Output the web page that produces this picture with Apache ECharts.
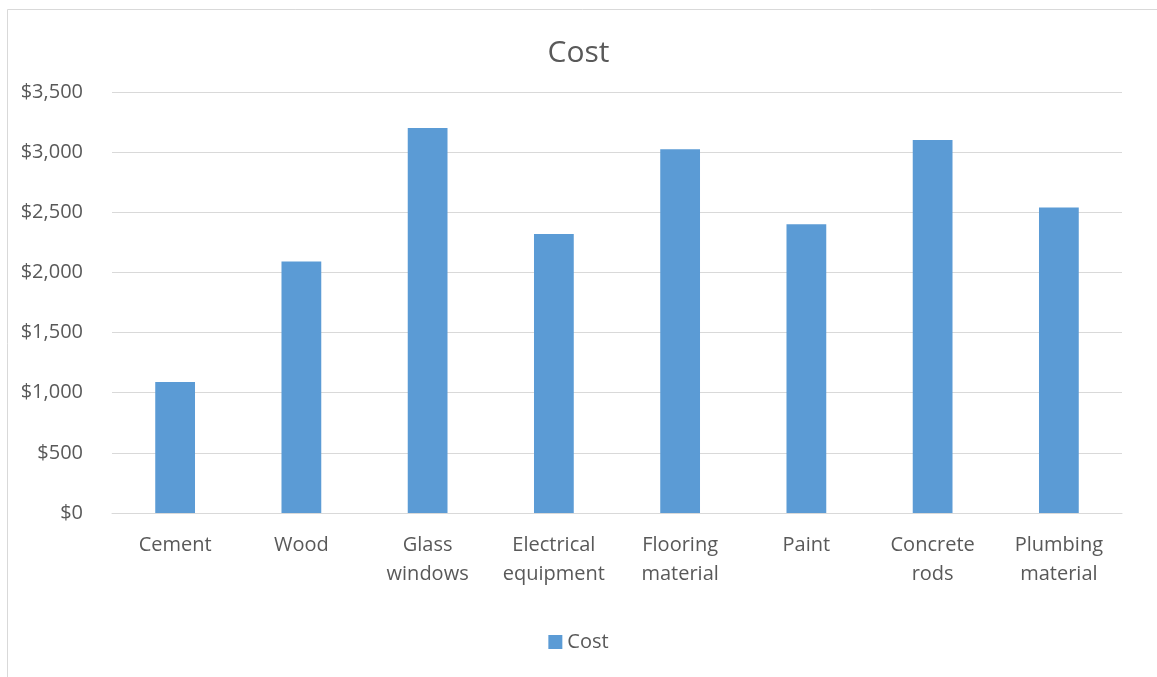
<!DOCTYPE html>
<html>
<head>
<meta charset="utf-8">
<script src="https://cdn.jsdelivr.net/npm/echarts@6/dist/echarts.min.js"></script>
<style>
html,body{margin:0;padding:0;background:#fff;}
#chart{width:1157px;height:677px;}
</style>
</head>
<body>
<div id="chart"></div>
<script>
const categories = ["Cement", "Wood", "Glass windows", "Electrical equipment", "Flooring material", "Paint", "Concrete rods", "Plumbing material"];
const costValues = [1090, 2090, 3200, 2320, 3025, 2400, 3100, 2540];
const yTicks = [0, 500, 1000, 1500, 2000, 2500, 3000, 3500];

const FONT = "'Open Sans', 'Noto Sans', sans-serif";
const chart = echarts.init(document.getElementById('chart'), null, {renderer: 'canvas'});
chart.setOption({
  animation: false,
  backgroundColor: '#fff',
  textStyle: {fontFamily: FONT},
  title: {
    text: 'Cost',
    left: 'center',
    top: 33,
    textStyle: {fontFamily: FONT, fontSize: 30, fontWeight: 'normal', color: '#595959'}
  },
  graphic: [{
    type: 'rect',
    shape: {x: 7.5, y: 9.5, width: 1160, height: 690},
    style: {fill: 'none', stroke: '#d9d9d9', lineWidth: 1},
    silent: true
  }],
  legend: {
    data: ['Cost'],
    bottom: 20,
    left: 'center',
    icon: 'rect',
    itemWidth: 14,
    itemHeight: 14,
    itemGap: 6,
    textStyle: {fontFamily: FONT, fontSize: 20, color: '#595959'}
  },
  grid: {left: 112, right: 35, top: 92, bottom: 164, containLabel: false},
  xAxis: {
    type: 'category',
    data: categories,
    axisLine: {show: true, lineStyle: {color: '#d9d9d9', width: 1}},
    axisTick: {show: false},
    axisLabel: {
      interval: 0,
      margin: 18,
      fontFamily: FONT,
      fontSize: 20,
      lineHeight: 29,
      color: '#595959',
      formatter: v => v.replace(' ', '\n')
    }
  },
  yAxis: {
    type: 'value',
    min: yTicks[0],
    max: yTicks[yTicks.length - 1],
    interval: yTicks[1] - yTicks[0],
    axisLine: {show: false},
    axisTick: {show: false},
    splitLine: {lineStyle: {color: '#d9d9d9', width: 1}},
    axisLabel: {
      margin: 29,
      fontFamily: FONT,
      fontSize: 20,
      color: '#595959',
      formatter: v => '$' + v.toLocaleString('en-US')
    }
  },
  series: [{
    name: 'Cost',
    type: 'bar',
    data: costValues,
    barWidth: '31.5%',
    itemStyle: {color: '#5b9bd5'}
  }]
});
</script>
</body>
</html>
